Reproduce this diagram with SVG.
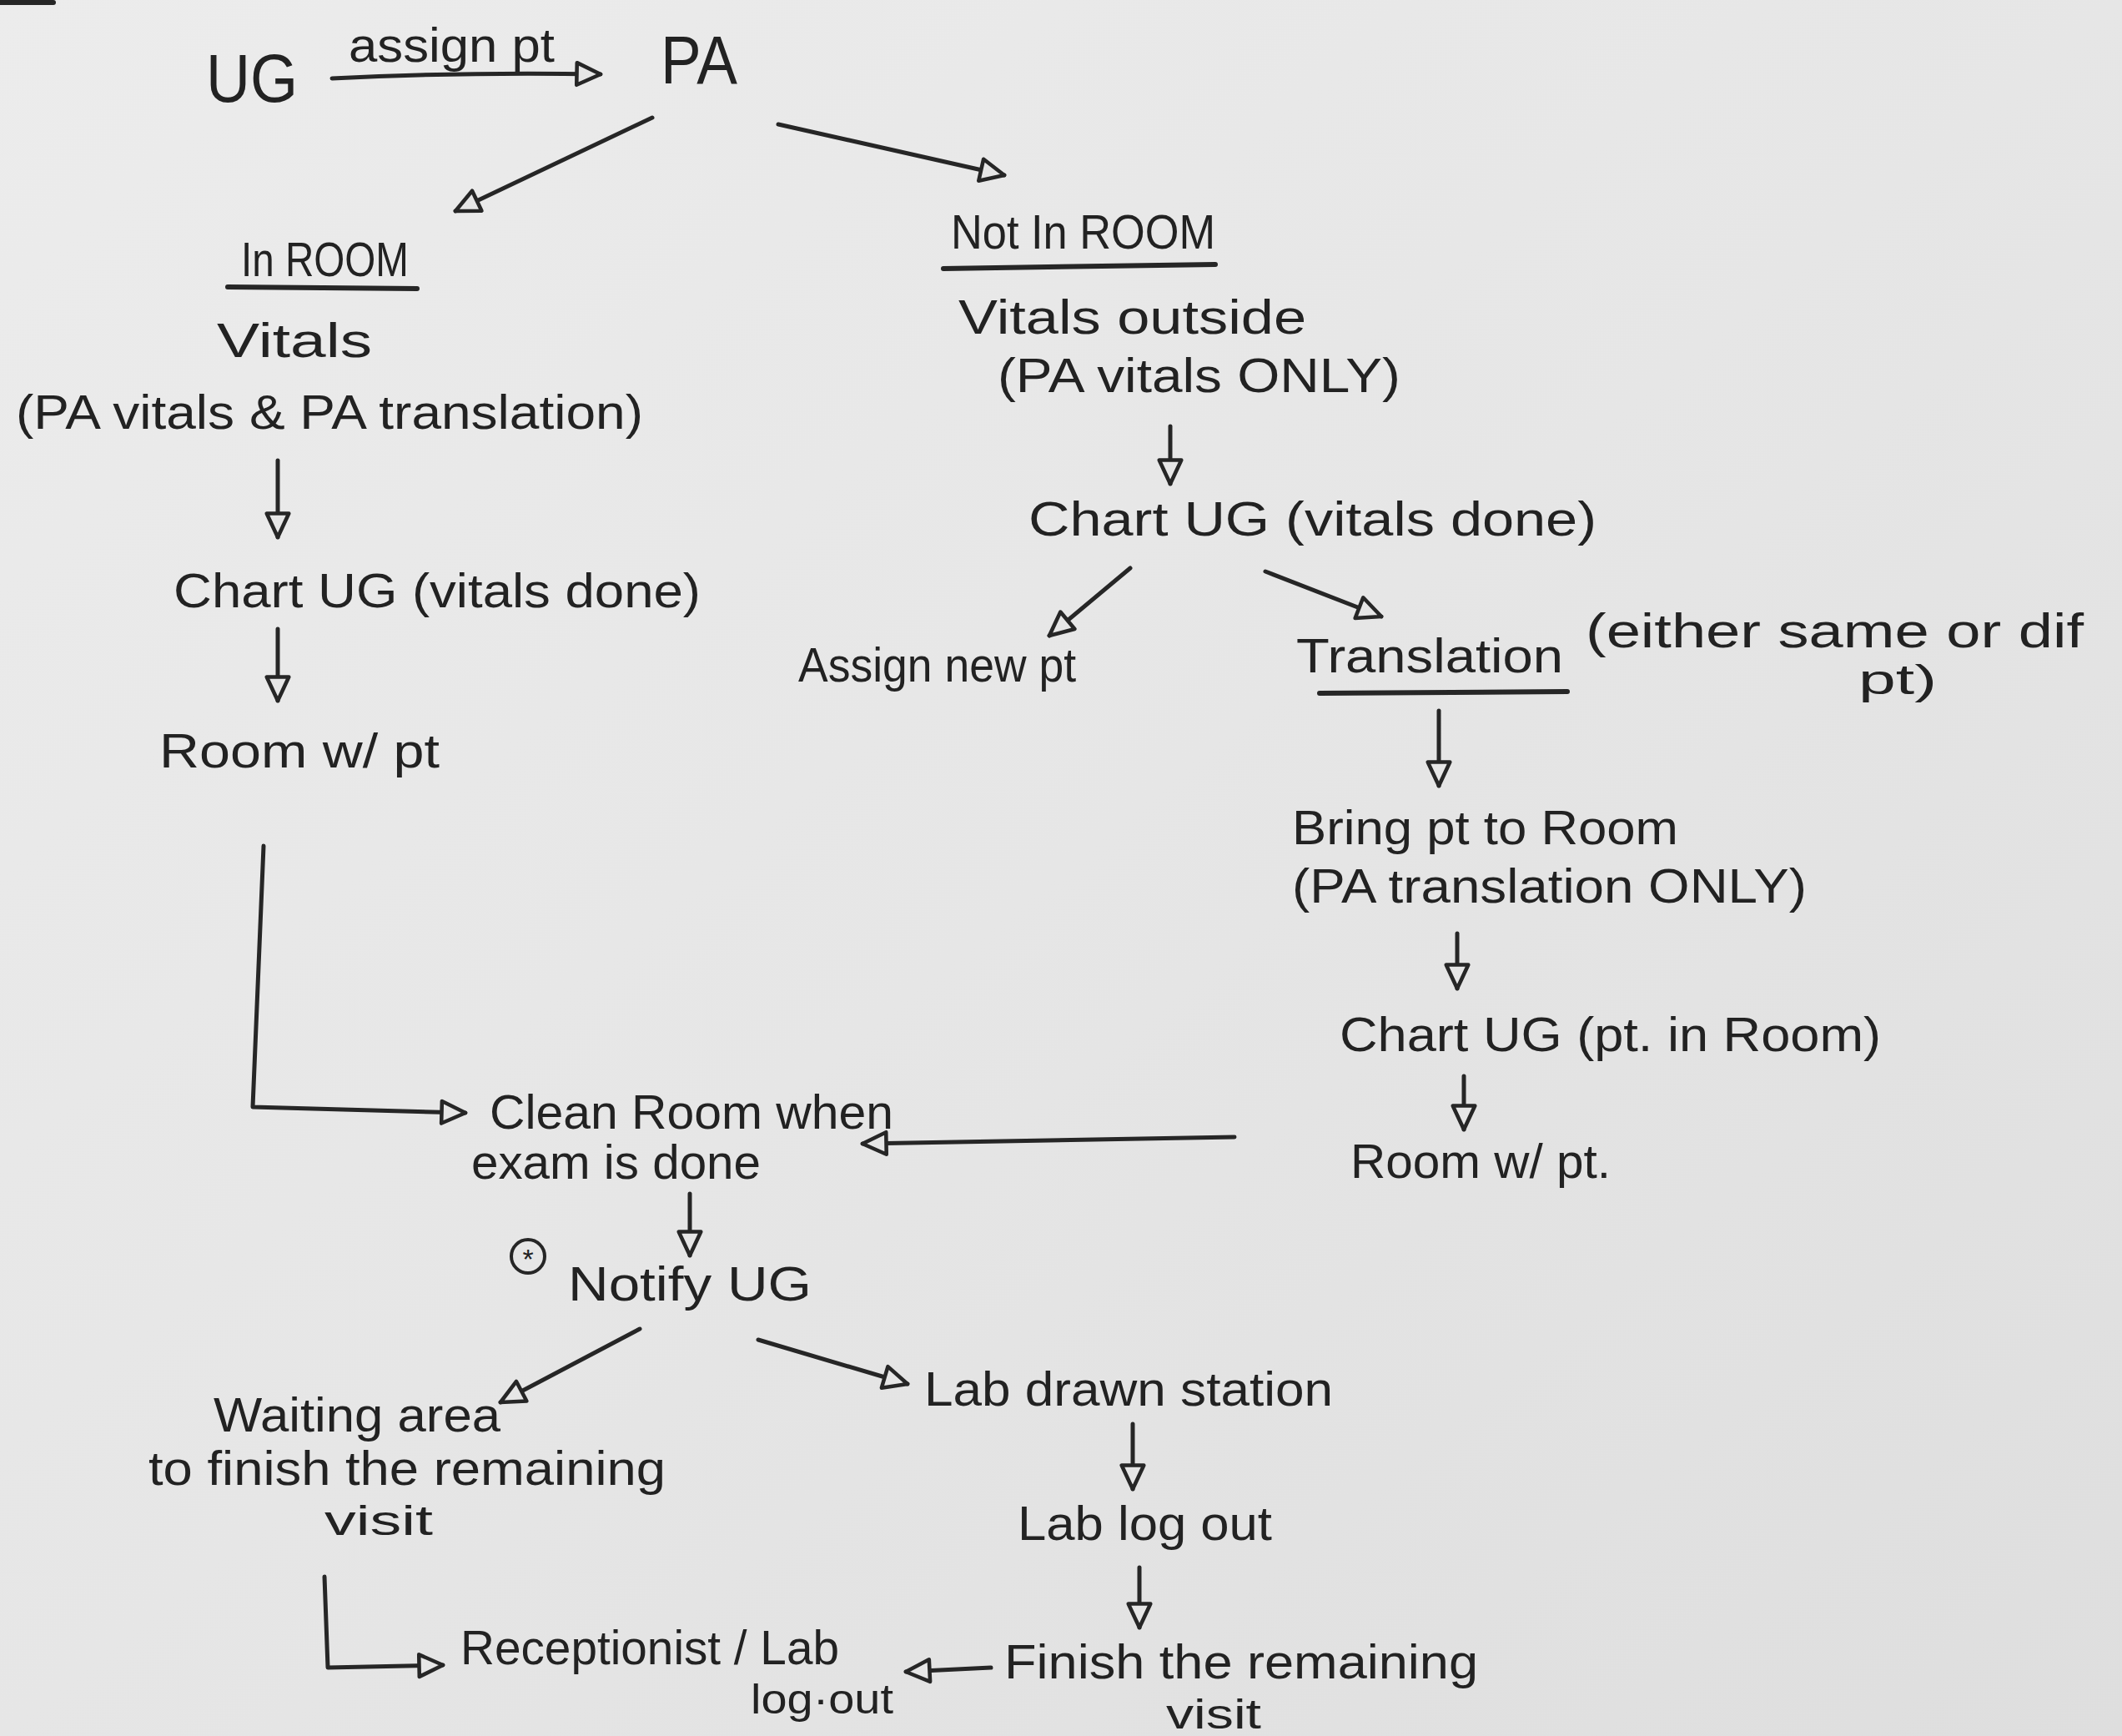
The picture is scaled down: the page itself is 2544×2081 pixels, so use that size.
<svg xmlns="http://www.w3.org/2000/svg" width="2544" height="2081" viewBox="0 0 2544 2081">
<defs>
<marker id="tri" viewBox="0 0 10 10" refX="9" refY="5" markerWidth="38" markerHeight="38" markerUnits="userSpaceOnUse" orient="auto">
<path d="M1.5,1.5 L9,5 L1.5,8.5 Z" fill="#e6e6e6" stroke="#262626" stroke-width="1.2" stroke-linejoin="round"/>
</marker>
<linearGradient id="paper" x1="0" y1="0" x2="1" y2="1">
<stop offset="0" stop-color="#ececec"/>
<stop offset="0.5" stop-color="#e6e6e6"/>
<stop offset="1" stop-color="#dedede"/>
</linearGradient>
<style>
text{font-family:"Liberation Sans","DejaVu Sans",sans-serif;fill:#222;font-size:58px;}
.big{font-size:82px;}
.sm{font-size:50px;}
.c{fill:none;stroke:#262626;stroke-width:5;stroke-linecap:round;stroke-linejoin:round;}
.a{marker-end:url(#tri);}
.u{fill:none;stroke:#262626;stroke-width:6;stroke-linecap:round;}
</style>
</defs>
<rect width="2544" height="2081" fill="url(#paper)"/>
<line x1="0" y1="3" x2="64" y2="3" class="u" stroke-width="8"/>

<g id="connectors">
<path class="c a" d="M398,94 Q560,86 720,89"/>
<path class="c a" d="M782,141 L546,253"/>
<path class="c a" d="M933,149 L1204,210"/>
<path class="c a" d="M333,552 L333,644"/>
<path class="c a" d="M333,754 L333,840"/>
<path class="c a" d="M316,1014 L303,1327 L558,1334"/>
<path class="c a" d="M1403,511 L1403,580"/>
<path class="c a" d="M1355,681 L1258,762"/>
<path class="c a" d="M1517,685 L1656,739"/>
<path class="c a" d="M1725,852 L1725,942"/>
<path class="c a" d="M1747,1119 L1747,1185"/>
<path class="c a" d="M1755,1290 L1755,1354"/>
<path class="c a" d="M1480,1363 L1034,1371"/>
<path class="c a" d="M827,1431 L827,1505"/>
<path class="c a" d="M767,1593 L600,1681"/>
<path class="c a" d="M909,1606 L1088,1659"/>
<path class="c a" d="M1358,1707 L1358,1785"/>
<path class="c a" d="M1366,1879 L1366,1951"/>
<path class="c a" d="M1188,1999 L1086,2004"/>
<path class="c a" d="M389,1890 L393,1999 L531,1996"/>
</g>

<g id="UG"><text class="big" x="247" y="122" textLength="110" lengthAdjust="spacingAndGlyphs">UG</text></g>
<g id="assign-label"><text x="418" y="74" textLength="247" lengthAdjust="spacingAndGlyphs">assign pt</text></g>
<g id="PA"><text class="big" x="792" y="100" textLength="92" lengthAdjust="spacingAndGlyphs">PA</text></g>

<g id="in-room">
<text x="289" y="331" textLength="201" lengthAdjust="spacingAndGlyphs">In ROOM</text>
<line class="u" x1="273" y1="344" x2="500" y2="346"/>
<text x="260" y="428" textLength="186" lengthAdjust="spacingAndGlyphs">Vitals</text>
<text x="19" y="514" textLength="752" lengthAdjust="spacingAndGlyphs">(PA vitals &amp; PA translation)</text>
</g>
<g id="chart-left"><text x="208" y="728" textLength="632" lengthAdjust="spacingAndGlyphs">Chart UG (vitals done)</text></g>
<g id="room-left"><text x="191" y="920" textLength="336" lengthAdjust="spacingAndGlyphs">Room w/ pt</text></g>

<g id="not-in-room">
<text x="1140" y="298" textLength="317" lengthAdjust="spacingAndGlyphs">Not In ROOM</text>
<line class="u" x1="1131" y1="322" x2="1457" y2="317"/>
<text x="1149" y="400" textLength="417" lengthAdjust="spacingAndGlyphs">Vitals outside</text>
<text x="1196" y="470" textLength="483" lengthAdjust="spacingAndGlyphs">(PA vitals ONLY)</text>
</g>
<g id="chart-right"><text x="1233" y="642" textLength="681" lengthAdjust="spacingAndGlyphs">Chart UG (vitals done)</text></g>
<g id="assign-new"><text x="957" y="817" textLength="333" lengthAdjust="spacingAndGlyphs">Assign new pt</text></g>
<g id="translation">
<text x="1554" y="806" textLength="320" lengthAdjust="spacingAndGlyphs">Translation</text>
<line class="u" x1="1582" y1="831" x2="1879" y2="829"/>
<text x="1901" y="776" textLength="597" lengthAdjust="spacingAndGlyphs">(either same or dif</text>
<text class="sm" x="2228" y="832" textLength="94" lengthAdjust="spacingAndGlyphs">pt)</text>
</g>
<g id="bring-pt">
<text x="1549" y="1012" textLength="463" lengthAdjust="spacingAndGlyphs">Bring pt to Room</text>
<text x="1549" y="1082" textLength="617" lengthAdjust="spacingAndGlyphs">(PA translation ONLY)</text>
</g>
<g id="chart-pt"><text x="1606" y="1260" textLength="649" lengthAdjust="spacingAndGlyphs">Chart UG (pt. in Room)</text></g>
<g id="room-right"><text x="1619" y="1412" textLength="312" lengthAdjust="spacingAndGlyphs">Room w/ pt.</text></g>

<g id="clean-room">
<text x="587" y="1353" textLength="484" lengthAdjust="spacingAndGlyphs">Clean Room when</text>
<text x="565" y="1413" textLength="347" lengthAdjust="spacingAndGlyphs">exam is done</text>
</g>
<g id="notify-ug">
<circle cx="633" cy="1506" r="20" fill="none" stroke="#262626" stroke-width="4"/>
<text x="633" y="1521" text-anchor="middle" style="font-size:34px">*</text>
<text x="681" y="1559" textLength="292" lengthAdjust="spacingAndGlyphs">Notify UG</text>
</g>
<g id="waiting">
<text x="256" y="1716" textLength="344" lengthAdjust="spacingAndGlyphs">Waiting area</text>
<text x="178" y="1780" textLength="620" lengthAdjust="spacingAndGlyphs">to finish the remaining</text>
<text class="sm" x="389" y="1840" textLength="130" lengthAdjust="spacingAndGlyphs">visit</text>
</g>
<g id="lab-drawn"><text x="1108" y="1685" textLength="490" lengthAdjust="spacingAndGlyphs">Lab drawn station</text></g>
<g id="lab-logout"><text x="1220" y="1846" textLength="305" lengthAdjust="spacingAndGlyphs">Lab log out</text></g>
<g id="finish">
<text x="1204" y="2012" textLength="568" lengthAdjust="spacingAndGlyphs">Finish the remaining</text>
<text class="sm" x="1398" y="2072" textLength="114" lengthAdjust="spacingAndGlyphs">visit</text>
</g>
<g id="receptionist">
<text x="552" y="1995" textLength="454" lengthAdjust="spacingAndGlyphs">Receptionist / Lab</text>
<text class="sm" x="900" y="2054" textLength="171" lengthAdjust="spacingAndGlyphs">log·out</text>
</g>
</svg>
